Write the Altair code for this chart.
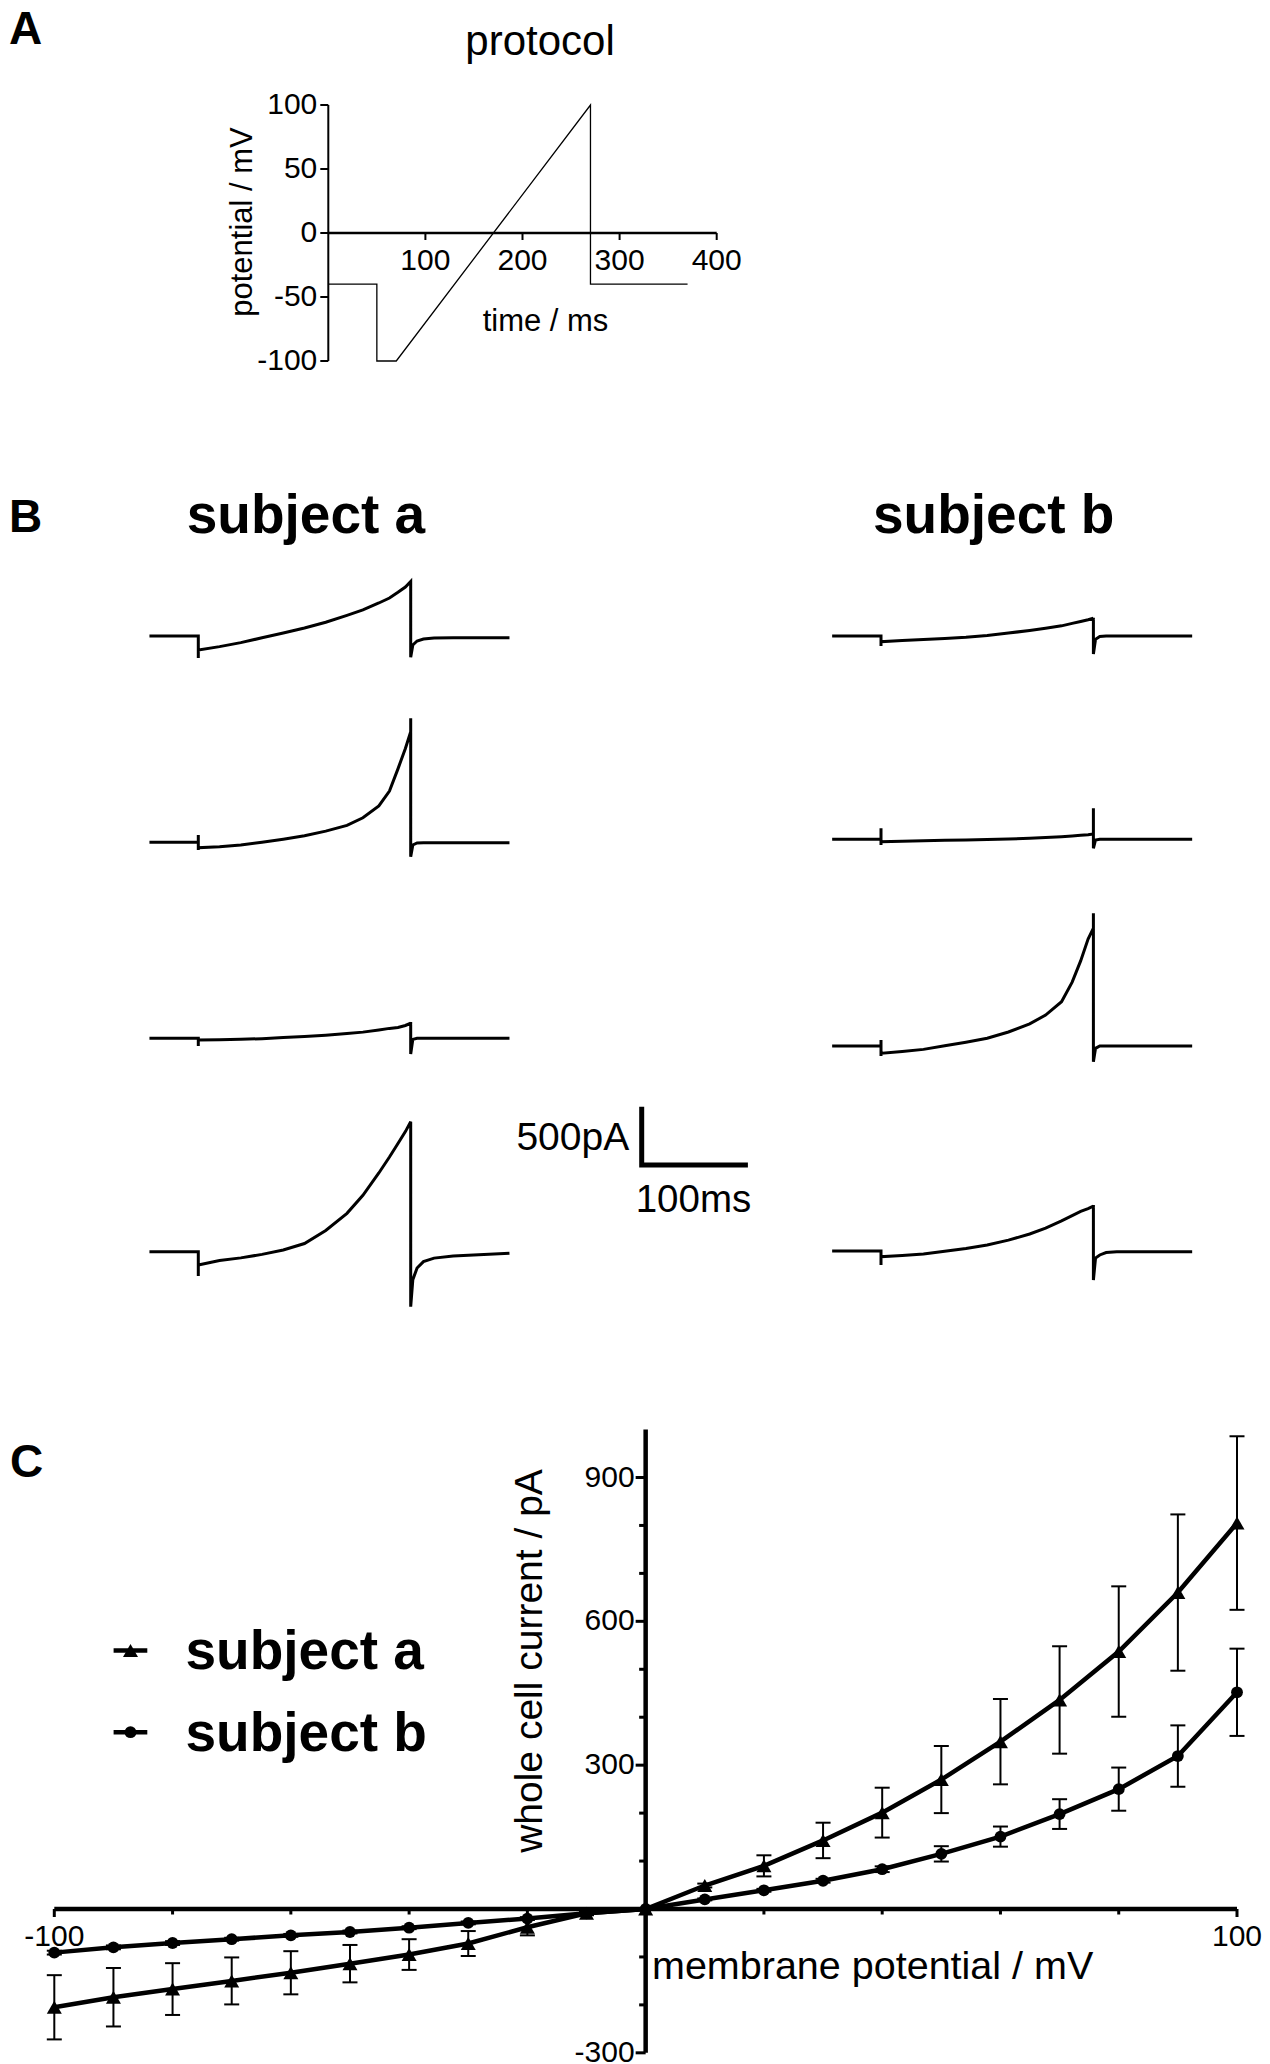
import altair as alt
import pandas as pd

FONT = "Liberation Sans, Arial, Helvetica, sans-serif"
INK = "#000000"

# ---------------- data: panel A (voltage protocol) ----------------
PROTO_T = [0, 50, 50, 70, 270, 270, 370]          # ms
PROTO_V = [-40, -40, -100, -100, 100, -40, -40]   # mV
A_XTICKS = [100, 200, 300, 400]
A_YTICKS = [-100, -50, 0, 50, 100]

# ---------------- data: panel B (whole-cell current traces, pA rel. to holding) ----
TRACE_T = [24, 70, 70, 70, 70, 90, 110, 130, 150, 170, 190, 210, 225, 240, 250,
           258, 265, 270, 270, 270, 272, 276, 282, 292, 310, 363]
TRACE_A1 = [0, 0, 0, -189, -120, -91, -57, -15, 26, 69, 118, 177, 224, 283, 326,
            375, 420, 467, 467, -183, -77, -43, -26, -17, -15, -15]
TRACE_A2 = [0, 0, 63, -66, -46, -38, -24, 0, 26, 56, 96, 145, 210, 312, 439,
            630, 805, 948, 1063, -123, -23, -6, -4, -4, -4, -4]
TRACE_A3 = [0, 0, 0, -66, -15, -12, -9, -3, 6, 15, 26, 41, 53, 71, 85,
            93, 110, 129, 140, -135, -9, 0, 0, 0, 0, 0]
TRACE_A4 = [0, 0, 0, -208, -114, -75, -53, -23, 15, 70, 182, 329, 484, 675, 812,
            928, 1030, 1115, 1115, -472, -240, -140, -85, -55, -36, -14]
TRACE_B1 = [0, 0, 0, -86, -49, -39, -30, -21, -11, 4, 25, 48, 67, 87, 108,
            125, 139, 152, 157, -154, -28, -4, 0, 0, 0, 0]
TRACE_B2 = [0, 0, 94, -49, -21, -16, -13, -9, -5, -2, 2, 9, 15, 22, 28,
            34, 39, 45, 266, -77, -6, 0, 0, 0, 0, 0]
TRACE_B3 = [0, 0, 51, -86, -63, -47, -29, 2, 33, 66, 120, 190, 265, 380, 548,
            730, 917, 1010, 1138, -135, -20, 0, 0, 0, 0, 0]
TRACE_B4 = [0, 0, 0, -120, -49, -39, -25, -2, 22, 51, 93, 146, 196, 258, 303,
            339, 364, 386, 395, -249, -60, -34, -13, -6, -6, -6]
SCALE_T = [0, 0, 100]      # ms  (scale bar)
SCALE_I = [500, 0, 0]      # pA

# ---------------- data: panel C (I-V relation) ----------------
IV_V = [-100, -90, -80, -70, -60, -50, -40, -30, -20, -10, 0,
        10, 20, 30, 40, 50, 60, 70, 80, 90, 100]
IV_A_MEAN = [-205, -184, -167, -150, -133, -114, -95, -72, -38, -9, 0,
             49, 90, 143, 201, 270, 349, 436, 537, 660, 805]
IV_A_SEM = [67, 61, 54, 49, 45, 39, 32, 26, 17, 4, 0,
            4, 22, 37, 52, 70, 89, 112, 136, 163, 181]
IV_B_MEAN = [-91, -80, -71, -63, -55, -48, -39, -29, -20, -9, 0,
             20, 39, 59, 83, 115, 151, 198, 250, 319, 452]
IV_B_SEM = [4, 4, 4, 3, 3, 3, 3, 3, 3, 2, 0,
            2, 3, 4, 6, 16, 21, 31, 45, 64, 91]
C_XTICKS = [-100, -80, -60, -40, -20, 20, 40, 60, 80, 100]
C_XLABELS = [-100, 100]
C_YTICKS = [-300, -200, -100, 100, 200, 300, 400, 500, 600, 700, 800, 900]
C_YLABELS = [-300, 300, 600, 900]
C_YMAX = 1000

# ---------------- layout ----------------
W = 1270
A_TOP, A_H = 0, 440
B_TOP, B_H = 440, 940
C_TOP, C_H = 1380, 684


def lin_domain(v1, p1, v2, p2, lo_px, hi_px):
    k = (p2 - p1) / (v2 - v1)
    a = v1 + (lo_px - p1) / k
    b = v1 + (hi_px - p1) / k
    return [min(a, b), max(a, b)]


def sc(dom):
    return alt.Scale(domain=dom, nice=False, zero=False)


def txt(**kw):
    base = dict(font=FONT, color=INK)
    base.update(kw)
    return base


ONE = pd.DataFrame({"k": [0]})

# =============== Panel A =================
A_PXMS = (716.7 - 328.3) / 400
A_PXMV = (361 - 105) / 200
xA = sc(lin_domain(0, 328.3, 400, 716.7, 0, W))
yA = sc(lin_domain(100, 105, -100, 361, A_TOP, A_TOP + A_H))


def XA(f):
    return alt.X(f, type="quantitative", scale=xA, axis=None)


def YA(f):
    return alt.Y(f, type="quantitative", scale=yA, axis=None)


a_yaxis = alt.Chart(pd.DataFrame({"x": [0], "y1": [min(A_YTICKS)], "y2": [max(A_YTICKS)]})).mark_rule(
    color=INK, strokeWidth=2).encode(x=XA("x"), y=YA("y1"), y2="y2")
a_xaxis = alt.Chart(pd.DataFrame({"y": [0], "x1": [0], "x2": [max(A_XTICKS)]})).mark_rule(
    color=INK, strokeWidth=2.3).encode(y=YA("y"), x=XA("x1"), x2="x2")
dfa_yt = pd.DataFrame({"v": A_YTICKS, "x1": 0.0, "x2": -8 / A_PXMS, "lab": [str(v) for v in A_YTICKS]})
a_yticks = alt.Chart(dfa_yt).mark_rule(color=INK, strokeWidth=2).encode(y=YA("v"), x=XA("x1"), x2="x2")
a_ylabs = alt.Chart(dfa_yt).mark_text(**txt(fontSize=30, align="right", baseline="middle", dx=-11)).encode(
    y=YA("v"), x=XA("x1"), text="lab:N")
dfa_xt = pd.DataFrame({"t": A_XTICKS, "y1": 0.0, "y2": -7 / A_PXMV, "lab": [str(v) for v in A_XTICKS]})
a_xticks = alt.Chart(dfa_xt).mark_rule(color=INK, strokeWidth=2).encode(x=XA("t"), y=YA("y1"), y2="y2")
a_xlabs = alt.Chart(dfa_xt).mark_text(**txt(fontSize=30, align="center", baseline="alphabetic", dy=37)).encode(
    x=XA("t"), y=YA("y1"), text="lab:N")
dfa_p = pd.DataFrame({"t": PROTO_T, "v": PROTO_V, "i": range(len(PROTO_T))})
a_proto = alt.Chart(dfa_p).mark_line(color=INK, strokeWidth=1.3).encode(
    x=XA("t"), y=YA("v"), order="i:Q")
a_title = alt.Chart(ONE).mark_text(**txt(text="protocol", fontSize=42, align="center", baseline="alphabetic")).encode(
    x=alt.value(540), y=alt.value(55 - A_TOP))
a_ytitle = alt.Chart(ONE).mark_text(**txt(text="potential / mV", fontSize=31, align="center",
                                          baseline="alphabetic", angle=270)).encode(
    x=alt.value(252), y=alt.value(222 - A_TOP))
a_xtitle = alt.Chart(ONE).mark_text(**txt(text="time / ms", fontSize=31, align="center", baseline="alphabetic")).encode(
    x=alt.value(545.5), y=alt.value(331 - A_TOP))
a_letter = alt.Chart(ONE).mark_text(**txt(text="A", fontSize=46, fontWeight="bold", align="left",
                                          baseline="alphabetic")).encode(
    x=alt.value(9), y=alt.value(43.5 - A_TOP))

panelA = alt.layer(a_yaxis, a_xaxis, a_yticks, a_ylabs, a_xticks, a_xlabs, a_proto,
                   a_title, a_ytitle, a_xtitle, a_letter).properties(width=W, height=A_H)

# =============== Panel B =================
B_PXMS = 1.062
B_PXPA = 58.3 / 500
B_STEP_PX = {"a": 198.3, "b": 881.0}
B_BASE_PX = {"a": [636.0, 842.3, 1038.3, 1251.7], "b": [636.0, 839.3, 1046.0, 1251.0]}
xB = sc(lin_domain(70, B_STEP_PX["a"], 170, B_STEP_PX["a"] + 100 * B_PXMS, 0, W))
yB = sc(lin_domain(0, B_BASE_PX["a"][0], 500, B_BASE_PX["a"][0] - 500 * B_PXPA, B_TOP, B_TOP + B_H))


def XB(f):
    return alt.X(f, type="quantitative", scale=xB, axis=None)


def YB(f):
    return alt.Y(f, type="quantitative", scale=yB, axis=None)


rows = []
for col, traces in (("a", [TRACE_A1, TRACE_A2, TRACE_A3, TRACE_A4]),
                    ("b", [TRACE_B1, TRACE_B2, TRACE_B3, TRACE_B4])):
    cshift = (B_STEP_PX[col] - B_STEP_PX["a"]) / B_PXMS
    for r, vals in enumerate(traces):
        rshift = (B_BASE_PX["a"][0] - B_BASE_PX[col][r]) / B_PXPA
        for i, (t, v) in enumerate(zip(TRACE_T, vals)):
            rows.append({"trace": f"{col}{r}", "i": i, "xp": t + cshift, "yp": v + rshift})
dfb = pd.DataFrame(rows)
b_traces = alt.Chart(dfb).mark_line(color=INK, strokeWidth=3, strokeJoin="miter").encode(
    x=XB("xp"), y=YB("yp"), detail="trace:N", order="i:Q")

corner_x = 70 + (641.7 - B_STEP_PX["a"]) / B_PXMS
corner_y = (B_BASE_PX["a"][0] - 1165.0) / B_PXPA
dfsb = pd.DataFrame({"xp": [t + corner_x for t in SCALE_T], "yp": [v + corner_y for v in SCALE_I],
                     "i": range(len(SCALE_T))})
b_scalebar = alt.Chart(dfsb).mark_line(color=INK, strokeWidth=5, strokeJoin="miter", strokeCap="butt").encode(
    x=XB("xp"), y=YB("yp"), order="i:Q")
dfc = pd.DataFrame({"xp": [corner_x], "yp": [corner_y]})
b_lab_pa = alt.Chart(dfc).mark_text(**txt(text="500pA", fontSize=39, align="right", baseline="alphabetic",
                                          dx=-12.5, dy=-15)).encode(x=XB("xp"), y=YB("yp"))
b_lab_ms = alt.Chart(dfc).mark_text(**txt(text="100ms", fontSize=38.5, align="left", baseline="alphabetic",
                                          dx=-6, dy=47)).encode(x=XB("xp"), y=YB("yp"))
b_title_a = alt.Chart(ONE).mark_text(**txt(text="subject a", fontSize=55, fontWeight="bold", align="center",
                                           baseline="alphabetic")).encode(
    x=alt.value(306), y=alt.value(533.3 - B_TOP))
b_title_b = alt.Chart(ONE).mark_text(**txt(text="subject b", fontSize=55, fontWeight="bold", align="center",
                                           baseline="alphabetic")).encode(
    x=alt.value(993.7), y=alt.value(533.3 - B_TOP))
b_letter = alt.Chart(ONE).mark_text(**txt(text="B", fontSize=46, fontWeight="bold", align="left",
                                          baseline="alphabetic")).encode(
    x=alt.value(9), y=alt.value(532 - B_TOP))

panelB = alt.layer(b_traces, b_scalebar, b_lab_pa, b_lab_ms, b_title_a, b_title_b, b_letter).properties(
    width=W, height=B_H)

# =============== Panel C =================
C_PXMV = (1237 - 54.3) / 200
C_PXPA = (1909 - 1477.5) / 900
xC = sc(lin_domain(-100, 54.3, 100, 1237, 0, W))
yC = sc(lin_domain(0, 1909, 900, 1477.5, C_TOP, C_TOP + C_H))


def XC(f):
    return alt.X(f, type="quantitative", scale=xC, axis=None)


def YC(f):
    return alt.Y(f, type="quantitative", scale=yC, axis=None)


c_xaxis = alt.Chart(pd.DataFrame({"y": [0], "x1": [min(IV_V)], "x2": [max(IV_V)]})).mark_rule(
    color=INK, strokeWidth=4.5).encode(y=YC("y"), x=XC("x1"), x2="x2")
c_yaxis = alt.Chart(pd.DataFrame({"x": [0], "y1": [min(C_YTICKS)], "y2": [C_YMAX]})).mark_rule(
    color=INK, strokeWidth=4.5).encode(x=XC("x"), y=YC("y1"), y2="y2")
dfc_xt = pd.DataFrame({"v": C_XTICKS, "y1": 0.0,
                       "y2": [-(8 if v in C_XLABELS else 5.5) / C_PXPA for v in C_XTICKS]})
c_xticks = alt.Chart(dfc_xt).mark_rule(color=INK, strokeWidth=3).encode(x=XC("v"), y=YC("y1"), y2="y2")
dfc_yt = pd.DataFrame({"v": C_YTICKS, "x1": 0.0,
                       "x2": [-(10 if v in C_YLABELS else 6.5) / C_PXMV for v in C_YTICKS]})
c_yticks = alt.Chart(dfc_yt).mark_rule(color=INK, strokeWidth=3).encode(y=YC("v"), x=XC("x1"), x2="x2")
dfc_yl = pd.DataFrame({"v": C_YLABELS, "x": 0.0, "lab": [str(v) for v in C_YLABELS]})
c_ylabs = alt.Chart(dfc_yl).mark_text(**txt(fontSize=30, align="right", baseline="middle", dx=-11)).encode(
    y=YC("v"), x=XC("x"), text="lab:N")
dfc_xl = pd.DataFrame({"v": C_XLABELS, "y": 0.0, "lab": [str(v) for v in C_XLABELS]})
c_xlabs = alt.Chart(dfc_xl).mark_text(**txt(fontSize=30, align="center", baseline="alphabetic", dy=37)).encode(
    x=XC("v"), y=YC("y"), text="lab:N")

SUBJ = ["subject a", "subject b"]
SHAPES = ["triangle-up", "circle"]
SIZES = [225, 140]
iv_rows = []
for s, means, sems in ((SUBJ[0], IV_A_MEAN, IV_A_SEM), (SUBJ[1], IV_B_MEAN, IV_B_SEM)):
    for v, m, e in zip(IV_V, means, sems):
        iv_rows.append({"subject": s, "v": v, "m": m, "lo": m - e, "hi": m + e, "e": e})
dfiv = pd.DataFrame(iv_rows)
CAP = 7.5 / C_PXMV
dfiv["c1"] = dfiv["v"] - CAP
dfiv["c2"] = dfiv["v"] + CAP
dferr = dfiv[dfiv["e"] > 0]

c_err = alt.Chart(dferr).mark_rule(color=INK, strokeWidth=2).encode(x=XC("v"), y=YC("lo"), y2="hi")
c_cap_lo = alt.Chart(dferr).mark_rule(color=INK, strokeWidth=2).encode(x=XC("c1"), x2="c2", y=YC("lo"))
c_cap_hi = alt.Chart(dferr).mark_rule(color=INK, strokeWidth=2).encode(x=XC("c1"), x2="c2", y=YC("hi"))
c_lines = alt.Chart(dfiv).mark_line(color=INK, strokeWidth=4.5).encode(
    x=XC("v"), y=YC("m"), detail="subject:N")
c_pts = []
for s, shp, sz in zip(SUBJ, SHAPES, SIZES):
    c_pts.append(alt.Chart(dfiv[dfiv["subject"] == s]).mark_point(
        shape=shp, size=sz, filled=True, color=INK, opacity=1).encode(x=XC("v"), y=YC("m")))

# legend (drawn manually, top-left)
LEG_Y = [1650.6, 1732.2]
LEG_TXT_Y = [1669.0, 1750.6]
leg = []
for s, shp, sz, ly, ty in zip(SUBJ, SHAPES, SIZES, LEG_Y, LEG_TXT_Y):
    leg.append(alt.Chart(ONE).mark_rule(color=INK, strokeWidth=4.5).encode(
        x=alt.value(113.6), x2=alt.value(147.3), y=alt.value(ly - C_TOP)))
    leg.append(alt.Chart(ONE).mark_point(shape=shp, size=sz, filled=True, color=INK, opacity=1).encode(
        x=alt.value(130.5), y=alt.value(ly - C_TOP)))
    leg.append(alt.Chart(ONE).mark_text(**txt(text=s, fontSize=55, fontWeight="bold", align="left",
                                              baseline="alphabetic")).encode(
        x=alt.value(185.5), y=alt.value(ty - C_TOP)))

c_ytitle = alt.Chart(ONE).mark_text(**txt(text="whole cell current / pA", fontSize=39, align="center",
                                          baseline="alphabetic", angle=270)).encode(
    x=alt.value(542), y=alt.value(1661 - C_TOP))
c_xtitle = alt.Chart(ONE).mark_text(**txt(text="membrane potential / mV", fontSize=39.5, align="left",
                                          baseline="alphabetic")).encode(
    x=alt.value(652), y=alt.value(1979 - C_TOP))
c_letter = alt.Chart(ONE).mark_text(**txt(text="C", fontSize=46, fontWeight="bold", align="left",
                                          baseline="alphabetic")).encode(
    x=alt.value(10), y=alt.value(1477 - C_TOP))

panelC = alt.layer(c_xaxis, c_yaxis, c_xticks, c_yticks, c_ylabs, c_xlabs, c_err, c_cap_lo, c_cap_hi,
                   c_lines, *c_pts, *leg, c_ytitle, c_xtitle, c_letter).properties(width=W, height=C_H)

chart = alt.vconcat(panelA, panelB, panelC, spacing=0).properties(
    padding=0, background="white").configure_view(stroke=None).configure_concat(spacing=0)

chart.save("out.html", embed_options={"renderer": "svg", "actions": False})
